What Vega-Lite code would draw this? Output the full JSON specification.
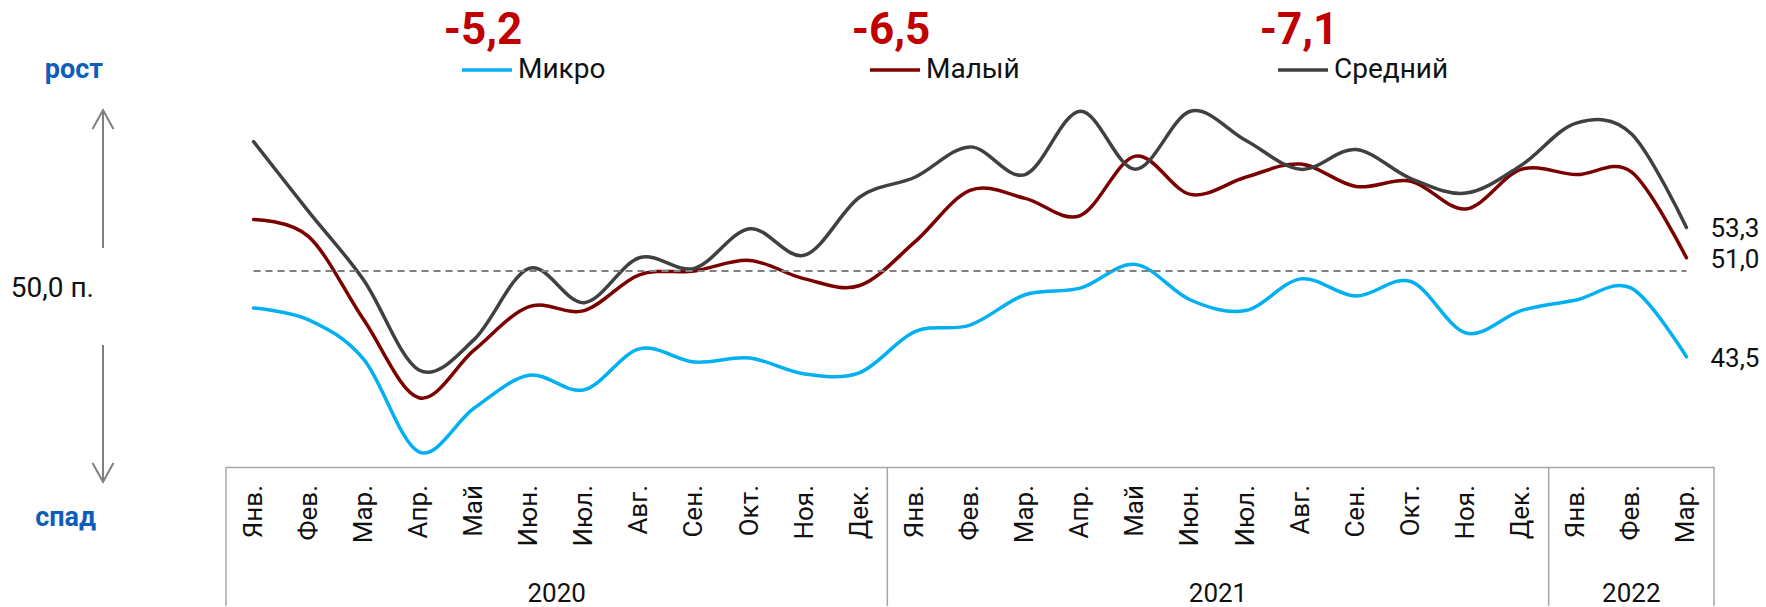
{
  "$schema": "https://vega.github.io/schema/vega-lite/v6.json",
  "padding": 0,
  "background": "white",
  "config": {
    "view": {"stroke": null},
    "font": "Roboto",
    "locale": {"number": {"decimal": ",", "thousands": " ", "grouping": [3], "currency": ["", ""], "minus": "-"}}
  },
  "datasets": {
    "months": [
      {"k": "2020-01", "mon": "Янв.", "yr": "2020", "Микро": 47.2, "Малый": 53.9, "Средний": 59.8},
      {"k": "2020-02", "mon": "Фев.", "yr": "2020", "Микро": 46.3, "Малый": 52.6, "Средний": 54.5},
      {"k": "2020-03", "mon": "Мар.", "yr": "2020", "Микро": 43.3, "Малый": 46.3, "Средний": 49.3},
      {"k": "2020-04", "mon": "Апр.", "yr": "2020", "Микро": 36.3, "Малый": 40.4, "Средний": 42.5},
      {"k": "2020-05", "mon": "Май", "yr": "2020", "Микро": 39.6, "Малый": 44.0, "Средний": 44.8},
      {"k": "2020-06", "mon": "Июн.", "yr": "2020", "Микро": 42.1, "Малый": 47.3, "Средний": 50.2},
      {"k": "2020-07", "mon": "Июл.", "yr": "2020", "Микро": 41.0, "Малый": 47.0, "Средний": 47.6},
      {"k": "2020-08", "mon": "Авг.", "yr": "2020", "Микро": 44.1, "Малый": 49.7, "Средний": 51.0},
      {"k": "2020-09", "mon": "Сен.", "yr": "2020", "Микро": 43.1, "Малый": 50.0, "Средний": 50.2},
      {"k": "2020-10", "mon": "Окт.", "yr": "2020", "Микро": 43.4, "Малый": 50.8, "Средний": 53.2},
      {"k": "2020-11", "mon": "Ноя.", "yr": "2020", "Микро": 42.2, "Малый": 49.4, "Средний": 51.2},
      {"k": "2020-12", "mon": "Дек.", "yr": "2020", "Микро": 42.3, "Малый": 48.9, "Средний": 55.6},
      {"k": "2021-01", "mon": "Янв.", "yr": "2021", "Микро": 45.4, "Малый": 52.2, "Средний": 57.1},
      {"k": "2021-02", "mon": "Фев.", "yr": "2021", "Микро": 45.9, "Малый": 56.1, "Средний": 59.4},
      {"k": "2021-03", "mon": "Мар.", "yr": "2021", "Микро": 48.2, "Малый": 55.5, "Средний": 57.3},
      {"k": "2021-04", "mon": "Апр.", "yr": "2021", "Микро": 48.7, "Малый": 54.2, "Средний": 62.1},
      {"k": "2021-05", "mon": "Май", "yr": "2021", "Микро": 50.5, "Малый": 58.7, "Средний": 57.7},
      {"k": "2021-06", "mon": "Июн.", "yr": "2021", "Микро": 47.8, "Малый": 55.8, "Средний": 62.1},
      {"k": "2021-07", "mon": "Июл.", "yr": "2021", "Микро": 47.0, "Малый": 57.1, "Средний": 59.9},
      {"k": "2021-08", "mon": "Авг.", "yr": "2021", "Микро": 49.4, "Малый": 58.1, "Средний": 57.7},
      {"k": "2021-09", "mon": "Сен.", "yr": "2021", "Микро": 48.1, "Малый": 56.4, "Средний": 59.2},
      {"k": "2021-10", "mon": "Окт.", "yr": "2021", "Микро": 49.2, "Малый": 56.8, "Средний": 57.0},
      {"k": "2021-11", "mon": "Ноя.", "yr": "2021", "Микро": 45.3, "Малый": 54.7, "Средний": 55.9},
      {"k": "2021-12", "mon": "Дек.", "yr": "2021", "Микро": 47.0, "Малый": 57.7, "Средний": 58.0},
      {"k": "2022-01", "mon": "Янв.", "yr": "2022", "Микро": 47.8, "Малый": 57.3, "Средний": 61.2},
      {"k": "2022-02", "mon": "Фев.", "yr": "2022", "Микро": 48.7, "Малый": 57.5, "Средний": 60.4},
      {"k": "2022-03", "mon": "Мар.", "yr": "2022", "Микро": 43.5, "Малый": 51.0, "Средний": 53.3}
    ],
    "series": [
      {"s": "Микро", "d": -5.2},
      {"s": "Малый", "d": -6.5},
      {"s": "Средний", "d": -7.1}
    ],
    "years": [
      {"yr": "2020", "a": 0, "b": 12},
      {"yr": "2021", "a": 12, "b": 24},
      {"yr": "2022", "a": 24, "b": 27}
    ]
  },
  "bounds": "flush",
  "spacing": 20,
  "hconcat": [
    {
      "width": 206,
      "height": 606,
      "data": {"values": [{}]},
      "layer": [
        {
          "mark": {"type": "rule", "stroke": "#7F7F7F", "strokeWidth": 2},
          "encoding": {
            "y": {"datum": 51.74, "type": "quantitative", "scale": {"domain": [24.62, 70.53], "nice": false, "zero": false}, "axis": null},
            "y2": {"datum": 62.2}
          }
        },
        {
          "mark": {"type": "point", "shape": "M-0.55,1L0,0L0.55,1", "size": 1444, "filled": false, "stroke": "#7F7F7F", "strokeWidth": 2, "opacity": 1},
          "encoding": {"y": {"datum": 62.2, "type": "quantitative"}}
        },
        {
          "mark": {"type": "rule", "stroke": "#7F7F7F", "strokeWidth": 2},
          "encoding": {
            "y": {"datum": 44.39, "type": "quantitative"},
            "y2": {"datum": 34.02}
          }
        },
        {
          "mark": {"type": "point", "shape": "M-0.55,-1L0,0L0.55,-1", "size": 1444, "filled": false, "stroke": "#7F7F7F", "strokeWidth": 2, "opacity": 1},
          "encoding": {"y": {"datum": 34.02, "type": "quantitative"}}
        },
        {
          "mark": {"type": "text", "align": "right", "baseline": "middle", "fontSize": 27, "fontWeight": "bold", "color": "#0E5DBA", "text": "рост"},
          "encoding": {"y": {"datum": 65.23, "type": "quantitative"}}
        },
        {
          "mark": {"type": "text", "align": "right", "baseline": "middle", "dx": -9, "dy": 18, "fontSize": 28, "color": "#111111", "text": "50,0 п."},
          "encoding": {"y": {"datum": 50, "type": "quantitative"}}
        },
        {
          "mark": {"type": "text", "align": "right", "baseline": "middle", "dx": -7, "fontSize": 27, "fontWeight": "bold", "color": "#0E5DBA", "text": "спад"},
          "encoding": {"y": {"datum": 31.29, "type": "quantitative"}}
        }
      ]
    },
    {
      "bounds": "flush",
      "spacing": 0,
      "vconcat": [
        {
          "width": 1488,
          "height": 95,
          "data": {"name": "series"},
          "layer": [
            {
              "mark": {"type": "point", "shape": "stroke", "size": 2500, "strokeWidth": 3.5, "filled": false, "opacity": 1},
              "encoding": {
                "x": {"field": "s", "type": "nominal", "sort": ["Микро", "Малый", "Средний"], "scale": {"type": "point", "domain": ["Микро", "Малый", "Средний"], "padding": 0.8235, "align": 0.3884}, "axis": null},
                "y": {"datum": "legend", "type": "nominal", "scale": {"type": "point", "domain": ["delta", "legend"], "padding": 0.718, "align": 0.5536}, "axis": null},
                "color": {"field": "s", "type": "nominal", "scale": {"domain": ["Микро", "Малый", "Средний"], "range": ["#00B0F0", "#7B0000", "#404040"]}, "legend": null}
              }
            },
            {
              "mark": {"type": "text", "align": "left", "baseline": "middle", "dx": 31, "fontSize": 28, "color": "#111111"},
              "encoding": {
                "x": {"field": "s", "type": "nominal"},
                "y": {"datum": "legend", "type": "nominal"},
                "text": {"field": "s"}
              }
            },
            {
              "mark": {"type": "text", "align": "center", "baseline": "middle", "dx": -4, "fontSize": 44, "fontWeight": "bold", "color": "#C00000"},
              "encoding": {
                "x": {"field": "s", "type": "nominal"},
                "y": {"datum": "delta", "type": "nominal"},
                "text": {"field": "d", "type": "quantitative", "format": ".1f"}
              }
            }
          ]
        },
        {
          "width": 1488,
          "height": 372,
          "layer": [
            {
              "data": {"name": "months"},
              "transform": [{"fold": ["Микро", "Малый", "Средний"], "as": ["s", "v"]}],
              "layer": [
                {
                  "mark": {"type": "line", "interpolate": "cardinal", "strokeWidth": 3.5, "strokeCap": "round", "strokeJoin": "round"},
                  "encoding": {
                    "x": {"field": "k", "type": "ordinal", "scale": {"type": "point", "padding": 0.5}, "axis": {"labels": false, "ticks": false, "grid": false, "title": null, "domain": true, "domainColor": "#A6A6A6", "domainWidth": 1.5}},
                    "y": {"field": "v", "type": "quantitative", "scale": {"domain": [35.15, 63.33], "nice": false, "zero": false}, "axis": null},
                    "color": {"field": "s", "type": "nominal", "scale": {"domain": ["Микро", "Малый", "Средний"], "range": ["#00B0F0", "#7B0000", "#404040"]}, "legend": null}
                  }
                },
                {
                  "transform": [{"filter": "datum.k == '2022-03'"}],
                  "mark": {"type": "text", "align": "left", "baseline": "middle", "dx": 24, "dy": 2, "fontSize": 26, "color": "#111111"},
                  "encoding": {
                    "x": {"field": "k", "type": "ordinal"},
                    "y": {"field": "v", "type": "quantitative"},
                    "text": {"field": "v", "type": "quantitative", "format": ".1f"}
                  }
                }
              ]
            },
            {
              "data": {"values": [{}]},
              "mark": {"type": "rule", "stroke": "#808080", "strokeWidth": 2, "strokeDash": [7, 5]},
              "encoding": {
                "x": {"datum": "2020-01", "type": "ordinal"},
                "x2": {"datum": "2022-03"},
                "y": {"datum": 50, "type": "quantitative"}
              }
            }
          ]
        },
        {
          "width": 1488,
          "height": 139,
          "resolve": {"scale": {"x": "independent"}},
          "layer": [
            {
              "data": {"name": "months"},
              "mark": {"type": "text", "angle": 270, "align": "right", "baseline": "middle", "fontSize": 26, "color": "#111111"},
              "encoding": {
                "x": {"field": "k", "type": "ordinal", "scale": {"type": "band", "paddingInner": 0, "paddingOuter": 0}, "axis": null},
                "y": {"datum": "Месяц", "type": "nominal", "scale": {"type": "point", "domain": ["Месяц", "Год"], "padding": 0.1376, "align": 0.6}, "axis": null},
                "text": {"field": "mon"}
              }
            },
            {
              "data": {"name": "years"},
              "layer": [
                {
                  "mark": {"type": "rule", "stroke": "#A6A6A6", "strokeWidth": 1.5},
                  "encoding": {
                    "x": {"field": "a", "type": "quantitative", "scale": {"domain": [0, 27], "nice": false, "zero": false}, "axis": null}
                  }
                },
                {
                  "transform": [{"filter": "datum.yr == '2022'"}],
                  "mark": {"type": "rule", "stroke": "#A6A6A6", "strokeWidth": 1.5},
                  "encoding": {"x": {"field": "b", "type": "quantitative"}}
                },
                {
                  "transform": [{"calculate": "(datum.a + datum.b) / 2", "as": "mid"}],
                  "mark": {"type": "text", "align": "center", "baseline": "middle", "fontSize": 26, "color": "#111111"},
                  "encoding": {
                    "x": {"field": "mid", "type": "quantitative"},
                    "y": {"datum": "Год", "type": "nominal"},
                    "text": {"field": "yr"}
                  }
                }
              ]
            }
          ]
        }
      ]
    }
  ]
}
